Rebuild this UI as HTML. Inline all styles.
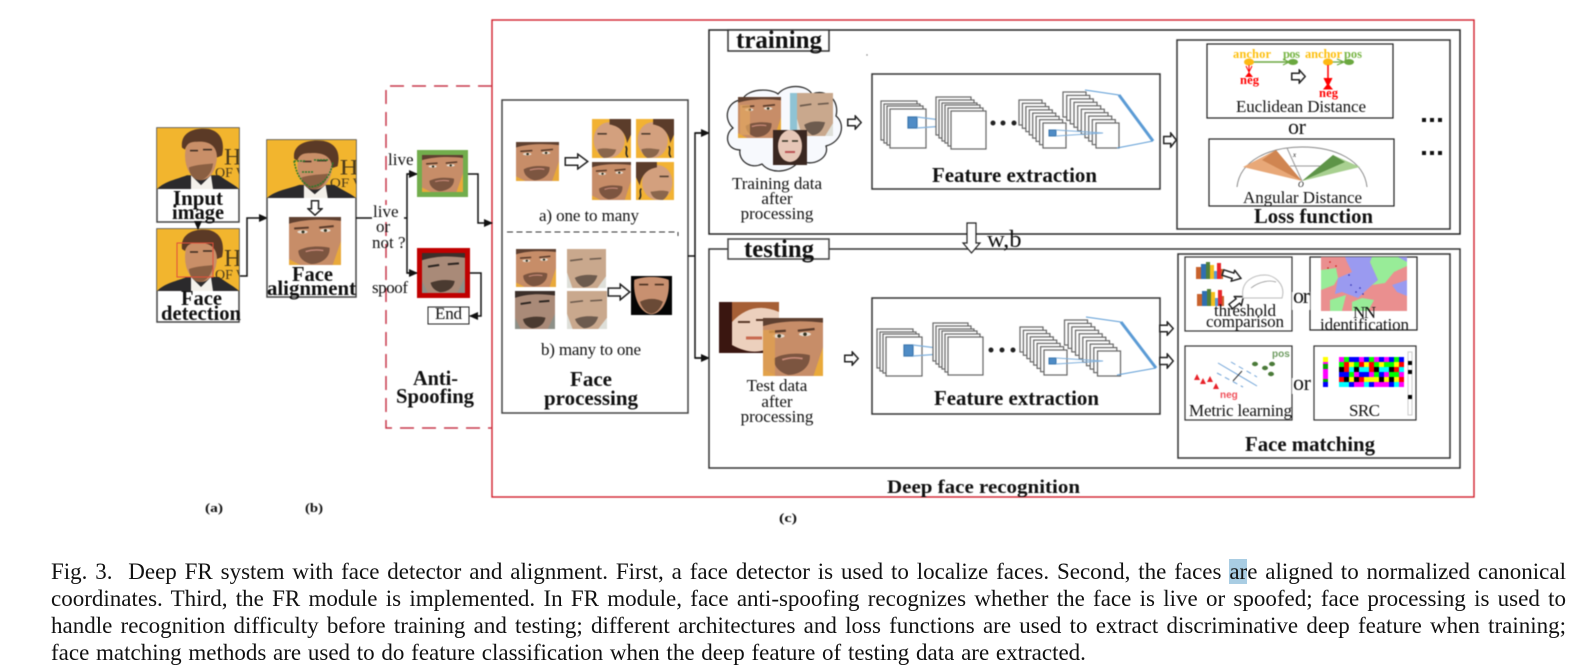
<!DOCTYPE html>
<html><head><meta charset="utf-8"><style>
html,body{margin:0;padding:0;background:#fff;width:1583px;height:670px;overflow:hidden}
svg{position:absolute;left:0;top:0;filter:blur(.4px)}
text{font-family:"Liberation Serif","Noto Serif CJK SC",serif;fill:#111}
.b{font-weight:bold;font-size:21px}.r{font-size:17px}
.c{position:absolute;left:51px;width:1515px;font:23px/26px "Liberation Serif",serif;color:#111;white-space:pre;text-align:justify;text-align-last:justify;filter:blur(.3px)}
.h{background:#a9cde3}
</style></head><body>
<svg width="1583" height="670" viewBox="0 0 1583 670" xmlns="http://www.w3.org/2000/svg">
<defs>
<marker id="m" markerWidth="9" markerHeight="8" refX="8" refY="4" orient="auto" markerUnits="userSpaceOnUse"><path d="M0 0L9 4L0 8Z" fill="#111"/></marker>
<symbol id="p" viewBox="0 0 82 62" preserveAspectRatio="none">
<rect width="82" height="62" fill="#f2b52e"/><text x="67" y="37" font-size="24" style="fill:#4a3a1a">H</text><text x="58" y="50" font-size="14" style="fill:#4a3a1a">OF W</text>
<path d="M0 62C8 54 20 52 30 48L62 48C70 54 78 58 82 62Z" fill="#2b2a2c"/><path d="M34 48L44 58L54 48L56 62H34Z" fill="#f3f0ea"/>
<ellipse cx="44" cy="28" rx="16" ry="25" fill="#c98f68"/><path d="M25 20C23 4 38 -1 52 1C64 4 68 14 65 28L60 30C60 18 52 13 40 14C34 14 30 15 28 22Z" fill="#5b3a26"/>
<path d="M32 40C40 37 50 37 56 36C55 48 46 54 42 53C36 52 32 46 32 40Z" fill="#8a5f42"/><path d="M33 23h8M46 22h9" stroke="#3a2a20" stroke-width="1.6"/>
</symbol>
<symbol id="f" viewBox="0 0 100 100" preserveAspectRatio="none">
<rect width="100" height="100" fill="#e9a93a"/><path d="M0 0H100V50L84 100H22L0 88Z" fill="#c78d68"/><path d="M0 0H100V8C70 4 30 4 0 14Z" fill="#5f4030"/>
<path d="M10 24L38 22M58 22L86 19" stroke="#5a3b2a" stroke-width="4"/><ellipse cx="26" cy="31" rx="10" ry="3.500" fill="#e6dccf"/><ellipse cx="70" cy="28" rx="10" ry="3.500" fill="#e6dccf"/><circle cx="27" cy="31" r="3" fill="#332"/><circle cx="70" cy="28" r="3" fill="#332"/>
<path d="M18 70C34 60 62 60 78 64C80 84 62 98 42 98C28 94 18 84 18 70Z" fill="#7c5540"/><path d="M32 72C44 68 56 68 66 70" stroke="#c98b7a" stroke-width="3" fill="none"/>
</symbol>
<symbol id="s" viewBox="0 0 100 100" preserveAspectRatio="none">
<rect width="100" height="100" fill="#f2b233"/><ellipse cx="44" cy="54" rx="40" ry="46" fill="#d3a07e"/><path d="M45 0H100V40L90 62C86 36 72 18 45 14Z" fill="#5b3c2a"/><path d="M14 78C32 72 52 78 62 78C58 94 46 100 30 100C22 96 16 88 14 78Z" fill="#8a664c"/><path d="M14 38h24" stroke="#4d3a2c" stroke-width="4"/><path d="M86 70C94 76 82 88 92 98" stroke="#222" stroke-width="4" fill="none"/>
</symbol>
<symbol id="g" viewBox="0 0 100 100" preserveAspectRatio="none">
<rect width="100" height="100" fill="#8d9088"/><path d="M0 0H100V60L82 100H14L0 70Z" fill="#a98a78"/><path d="M0 0H100V12C60 6 30 8 0 18Z" fill="#3b2f2a"/><path d="M14 34L40 30M60 28L86 26" stroke="#2b2420" stroke-width="5"/><path d="M20 74C40 66 60 66 76 70C74 88 58 98 42 98C30 94 22 86 20 74Z" fill="#4a3a30"/>
</symbol>
<symbol id="w" viewBox="0 0 100 100" preserveAspectRatio="none">
<rect width="100" height="100" fill="#dedfd9"/><path d="M0 0H100V70L78 100H14L0 60Z" fill="#c9a88d"/><path d="M8 30L40 26M58 26L88 24" stroke="#6c5a4c" stroke-width="4"/><path d="M20 74C40 64 60 66 78 68C72 88 58 98 42 98C30 92 24 84 20 74Z" fill="#6d5b4e"/>
</symbol>
<symbol id="d" viewBox="0 0 100 100" preserveAspectRatio="none">
<rect width="100" height="100" fill="#050505"/><path d="M8 10C30 0 70 0 92 10C96 60 74 98 50 98C26 98 4 60 8 10Z" fill="#c89070"/><path d="M20 22L42 22M58 22L80 22" stroke="#4a3020" stroke-width="4"/><path d="M22 66C40 56 62 56 78 66C70 88 58 96 50 96C40 96 28 86 22 66Z" fill="#6a4a36"/>
</symbol>
<symbol id="ha" viewBox="0 0 20 16" preserveAspectRatio="none"><path d="M1 4.5H11V1L19 8L11 15V11.5H1Z" fill="#fff" stroke="#222" stroke-width="1.5" vector-effect="non-scaling-stroke"/></symbol>
<g id="s1" fill="#fff" stroke="#666" stroke-width="1.2"><rect x="881" y="101" width="36" height="39"/><rect x="884" y="104" width="36" height="39"/><rect x="887" y="106" width="36" height="39"/><rect x="890" y="109" width="36" height="39"/><rect x="908" y="117" width="9" height="11" fill="#4f8cc6" stroke="#3b76ad"/><path d="M917 117L973 124L917 128" fill="none" stroke="#7fb0dd"/></g>
<g id="s2" fill="#fff" stroke="#666" stroke-width="1.2"><rect x="936" y="97" width="35" height="38"/><rect x="939" y="100" width="35" height="38"/><rect x="942" y="103" width="35" height="38"/><rect x="945" y="105" width="35" height="38"/><rect x="948" y="108" width="35" height="38"/><rect x="951" y="111" width="35" height="38"/></g>
<g id="s3" fill="#fff" stroke="#666" stroke-width="1.2"><rect x="1019" y="100" width="23" height="25"/><rect x="1022.4" y="103.3" width="23" height="25"/><rect x="1025.9" y="106.6" width="23" height="25"/><rect x="1029.3" y="109.9" width="23" height="25"/><rect x="1032.7" y="113.1" width="23" height="25"/><rect x="1036.1" y="116.4" width="23" height="25"/><rect x="1039.6" y="119.7" width="23" height="25"/><rect x="1043" y="123" width="23" height="25"/></g>
<g id="s4" fill="#fff" stroke="#666" stroke-width="1.2"><rect x="1063" y="92" width="23" height="25"/><rect x="1066.7" y="95.4" width="23" height="25"/><rect x="1070.3" y="98.9" width="23" height="25"/><rect x="1074" y="102.3" width="23" height="25"/><rect x="1077.7" y="105.8" width="23" height="25"/><rect x="1081.3" y="109.2" width="23" height="25"/><rect x="1085" y="112.7" width="23" height="25"/><rect x="1088.7" y="116.1" width="23" height="25"/><rect x="1092.3" y="119.6" width="23" height="25"/><rect x="1096" y="123" width="23" height="25"/></g>
<g id="s5"><rect x="1049" y="130" width="7" height="6" fill="#4f8cc6" stroke="#3b76ad"/><path d="M1056 130L1103 133L1056 136" fill="none" stroke="#7fb0dd"/></g>
<g id="bars"><rect x="0" y="5" width="5" height="12" fill="#c8622c"/><rect x="5" y="2" width="5" height="15" fill="#2f6fb0"/><rect x="10" y="0" width="4" height="17" fill="#4f7f3c"/><rect x="14" y="3" width="4" height="14" fill="#f5bf1c"/><rect x="18" y="9" width="3" height="8" fill="#5a9bd5"/><rect x="21" y="1" width="4" height="16" fill="#e8262a"/><rect x="25" y="7" width="2" height="10" fill="#c8622c"/></g>
</defs>

<!-- red frame and dashed frame -->
<rect x="492" y="20" width="982" height="477" fill="none" stroke="#d11f2b" stroke-width="1.4"/>
<path d="M492 86H386V428H492" fill="none" stroke="#c8384a" stroke-width="1.5" stroke-dasharray="14 8"/>

<!-- (a) input -->
<rect x="157" y="128" width="82" height="94" fill="#fff" stroke="#444" stroke-width="1.5"/>
<use href="#p" x="157" y="128" width="82" height="61"/>
<text class="b" x="173" y="205" textLength="50" lengthAdjust="spacingAndGlyphs">Input</text>
<text class="b" x="172" y="219" textLength="52" lengthAdjust="spacingAndGlyphs">image</text>
<rect x="157" y="229" width="82" height="93" fill="#fff" stroke="#444" stroke-width="1.5"/>
<use href="#p" x="157" y="229" width="82" height="62"/>
<rect x="177" y="243" width="36" height="34" fill="none" stroke="#e0503a"/>
<text class="b" x="181" y="305" textLength="41" lengthAdjust="spacingAndGlyphs">Face</text>
<text class="b" x="161" y="320" textLength="80" lengthAdjust="spacingAndGlyphs">detection</text>
<path d="M198 222V229" stroke="#111" stroke-width="1.5" marker-end="url(#m)"/>
<path d="M240 276H247V218H267" fill="none" stroke="#111" stroke-width="1.5" marker-end="url(#m)"/>

<!-- (b) alignment -->
<rect x="267" y="140" width="89" height="157" fill="#fff" stroke="#444" stroke-width="1.5"/>
<use href="#p" x="267" y="140" width="89" height="58"/>
<path d="M294 161C296 170 298 180 310 187C322 186 330 178 333 162M294 161h12M314 160h14M302 172h12" fill="none" stroke="#2a7a2a" stroke-width="1.5" stroke-dasharray="2 1"/>
<use href="#ha" x="0" y="0" width="16" height="16" transform="translate(323 200) rotate(90)"/>
<use href="#f" x="289" y="217" width="52" height="48"/>
<text class="b" x="292" y="281" textLength="41" lengthAdjust="spacingAndGlyphs">Face</text>
<text class="b" x="267" y="295" textLength="89" lengthAdjust="spacingAndGlyphs">alignment</text>

<!-- anti-spoofing -->
<path d="M356 218H407" fill="none" stroke="#111" stroke-width="1.5"/>
<rect x="372" y="205" width="32" height="17" fill="#fff"/>
<path d="M416 174H407V273H416" fill="none" stroke="#111" stroke-width="1.5"/>
<path d="M407 174H417" stroke="#111" stroke-width="1.5" marker-end="url(#m)"/>
<path d="M407 273H417" stroke="#111" stroke-width="1.5" marker-end="url(#m)"/>
<rect x="419.500" y="152.500" width="46" height="42" fill="none" stroke="#72ad4c" stroke-width="5"/>
<use href="#f" x="422" y="155" width="41" height="37"/>
<rect x="419.500" y="250.500" width="48" height="45" fill="none" stroke="#c00000" stroke-width="5"/>
<use href="#g" x="422" y="253" width="43" height="40"/>
<rect x="428" y="307" width="41" height="17" fill="#fff" stroke="#222"/>
<text class="r" x="435" y="319" textLength="27">End</text>
<path d="M468 174H478V223H492" fill="none" stroke="#111" stroke-width="1.5" marker-end="url(#m)"/>
<path d="M470 273H481V316H470" fill="none" stroke="#111" stroke-width="1.5" marker-end="url(#m)"/>
<text class="r" x="388" y="165">live</text>
<text class="r" x="373" y="217">live</text>
<text class="r" x="376" y="232">or</text>
<text class="r" x="372" y="248">not ?</text>
<text class="r" x="372" y="293" textLength="36">spoof</text>
<text class="b" x="413" y="385" textLength="45" lengthAdjust="spacingAndGlyphs">Anti-</text>
<text class="b" x="396" y="403" textLength="78" lengthAdjust="spacingAndGlyphs">Spoofing</text>

<!-- face processing -->
<rect x="502" y="100" width="186" height="313" fill="#fff" stroke="#444" stroke-width="1.5"/>
<use href="#f" x="516" y="142" width="43" height="39"/>
<use href="#ha" x="564" y="153" width="25" height="17"/>
<use href="#s" x="592" y="119" width="39" height="39"/>
<use href="#s" x="636" y="119" width="38" height="39"/>
<use href="#f" x="592" y="162" width="39" height="38"/>
<use href="#s" x="636" y="162" width="38" height="38" transform="translate(1310 0) scale(-1 1)"/>
<text class="r" x="539" y="221" textLength="100">a) one to many</text>
<path d="M507 232H675" stroke="#333" stroke-width="1" stroke-dasharray="6 3.500"/><path d="M678 232V236" stroke="#333"/>
<use href="#f" x="516" y="249" width="40" height="38"/>
<use href="#w" x="567" y="249" width="39" height="39"/>
<use href="#g" x="515" y="291" width="40" height="38"/>
<use href="#w" x="567" y="291" width="40" height="38"/>
<use href="#ha" x="607" y="283" width="24" height="18"/>
<use href="#d" x="631" y="276" width="41" height="39"/>
<text class="r" x="541" y="355" textLength="100">b) many to one</text>
<text class="b" x="591" y="386" text-anchor="middle">Face</text>
<text class="b" x="544" y="405" textLength="94" lengthAdjust="spacingAndGlyphs">processing</text>
<path d="M688 256H695" stroke="#111" stroke-width="1.5"/>
<path d="M709 133H695V358H709" fill="none" stroke="#111" stroke-width="1.5"/>
<path d="M695 133H709" stroke="#111" stroke-width="1.5" marker-end="url(#m)"/>
<path d="M695 358H709" stroke="#111" stroke-width="1.5" marker-end="url(#m)"/>

<!-- training -->
<rect x="709" y="30" width="751" height="204" fill="#fff" stroke="#222" stroke-width="1.5"/>
<rect x="728" y="30" width="101" height="21" fill="#fff" stroke="#333" stroke-width="1.5"/>
<text class="b" style="font-size:25px" x="736" y="48" textLength="86" lengthAdjust="spacingAndGlyphs">training</text>
<circle cx="867" cy="55" r=".7" fill="#777"/>
<path d="M733 128C722 118 728 100 742 100C748 88 770 88 778 94C786 84 806 84 812 94C826 88 840 100 836 116C846 124 842 142 826 146C830 158 812 168 800 160C790 174 770 174 762 164C750 170 738 160 740 150C726 150 724 134 733 128Z" fill="#f7f9fd" stroke="#222" stroke-width="1.2"/>
<use href="#f" x="738" y="97" width="43" height="41"/>
<rect x="740" y="105" width="10" height="30" fill="#e2a75f" opacity=".7"/>
<rect x="790" y="93" width="43" height="43" fill="#8fc3d4"/><use href="#w" x="797" y="93" width="36" height="43"/>
<rect x="773" y="130" width="34" height="35" fill="#3a2720"/><ellipse cx="790" cy="146" rx="12" ry="16" fill="#e6c7b7"/><path d="M785 152h10" stroke="#b55" stroke-width="2"/><path d="M782 141h6M792 141h6" stroke="#332" stroke-width="1.5"/>
<text class="r" x="777" y="189" text-anchor="middle" textLength="90">Training data</text>
<text class="r" x="777" y="204" text-anchor="middle">after</text>
<text class="r" x="777" y="219" text-anchor="middle">processing</text>
<use href="#ha" x="847" y="115" width="15" height="15"/>
<rect x="872" y="74" width="288" height="115" fill="#fff" stroke="#333" stroke-width="1.5"/>
<use href="#s1"/><use href="#s2"/>
<circle cx="993" cy="123" r="2.500" fill="#222"/><circle cx="1003" cy="123" r="2.500" fill="#222"/><circle cx="1014" cy="123" r="2.500" fill="#222"/>
<use href="#s3"/><use href="#s4"/><use href="#s5"/>
<path d="M1119 95L1153 141" stroke="#5b9bd5" stroke-width="3"/><path d="M1085 90L1119 95M1117 148L1153 141" stroke="#5b9bd5" fill="none"/>
<text class="b" x="932" y="182" textLength="165" lengthAdjust="spacingAndGlyphs">Feature extraction</text>
<use href="#ha" x="1163" y="132" width="14" height="16"/>

<!-- loss -->
<rect x="1177" y="40" width="273" height="189" fill="#fff" stroke="#333" stroke-width="1.5"/>
<rect x="1207" y="44" width="186" height="74" fill="#fff" stroke="#222" stroke-width="1.2"/>
<g font-weight="bold" font-size="12.500">
<text x="1233" y="58" textLength="38" style="fill:#fdc010">anchor</text><text x="1283" y="58" textLength="17" style="fill:#7ab648">pos</text>
<text x="1305" y="58" textLength="37" style="fill:#fdc010">anchor</text><text x="1344" y="58" textLength="18" style="fill:#7ab648">pos</text>
<text x="1240" y="84" textLength="19" style="fill:#f00">neg</text><text x="1319" y="97" textLength="19" style="fill:#f00">neg</text></g>
<path d="M1249 62H1289" stroke="#6aa83f" stroke-width="1.5"/><path d="M1283 59L1289 62L1283 65M1337 59L1344 62L1337 65M1328 62H1344" fill="none" stroke="#6aa83f" stroke-width="1.2"/>
<ellipse cx="1249" cy="62" rx="5" ry="3.500" fill="#fdb913"/><ellipse cx="1293" cy="62" rx="5" ry="3" fill="#6aa83f"/><ellipse cx="1328" cy="62" rx="5" ry="3.500" fill="#fdb913"/><ellipse cx="1349" cy="62" rx="5" ry="3" fill="#6aa83f"/>
<path d="M1249 72L1245 77H1253Z" fill="#f00"/><path d="M1249 65V73M1246 66L1249 72L1252 66" stroke="#f00" fill="none"/>
<path d="M1328 65V88" stroke="#f00" stroke-width="1.5"/><path d="M1324 78L1328 86L1332 78M1328 84L1324 89H1332Z" fill="#f00" stroke="#f00"/>
<use href="#ha" x="1291" y="69" width="15" height="15"/>
<text class="r" x="1236" y="112" textLength="130">Euclidean Distance</text>
<text x="1288" y="134" font-size="22" textLength="18">or</text>
<rect x="1209" y="139" width="185" height="67" fill="#fff" stroke="#222" stroke-width="1.2"/>
<path d="M1237 187C1240 160 1270 147 1302 147C1335 147 1364 160 1367 187" fill="none" stroke="#888"/>
<path d="M1302 181L1243 167L1276 150Z" fill="#e8a878"/><path d="M1302 181L1262 160L1276 150Z" fill="#b8612a" opacity=".5"/>
<path d="M1302 181L1333 155L1360 167Z" fill="#a8d090"/><path d="M1302 181L1333 155L1345 162Z" fill="#3f7a2a" opacity=".7"/>
<path d="M1287 148L1302 181M1290 166H1320" stroke="#999" fill="none"/>
<text x="1293" y="157" font-size="7" font-style="italic">x</text><text x="1298" y="187" font-size="8" font-style="italic">O</text>
<text class="r" x="1243" y="203" textLength="119">Angular Distance</text>
<text class="b" x="1254" y="223" textLength="119" lengthAdjust="spacingAndGlyphs">Loss function</text>
<path d="M1422 118h4v4h-4zM1430 118h4v4h-4zM1438 118h4v4h-4zM1422 151h4v4h-4zM1430 151h4v4h-4zM1438 151h4v4h-4zM1422 327h4v4h-4zM1430 327h4v4h-4zM1438 327h4v4h-4zM1422 360h4v4h-4zM1430 360h4v4h-4zM1438 360h4v4h-4z" fill="#111"/>

<!-- testing -->
<rect x="709" y="249" width="751" height="219" fill="#fff" stroke="#333" stroke-width="1.5"/>
<rect x="728" y="239" width="101" height="20" fill="#fff" stroke="#444" stroke-width="1.5"/>
<text class="b" style="font-size:25px" x="744" y="257" textLength="70" lengthAdjust="spacingAndGlyphs">testing</text>
<rect x="719" y="302" width="60" height="51" fill="#3a1610"/>
<g><rect x="732" y="302" width="47" height="51" fill="#ecd0bd"/><path d="M732 302H779V312C760 304 745 308 732 322Z" fill="#a65f35"/><path d="M738 322h12M756 320h12" stroke="#5a3a2a" stroke-width="2"/><path d="M746 338h16" stroke="#c96a50" stroke-width="3"/><path d="M732 345C745 352 755 353 765 350V353H732Z" fill="#3a1610"/></g>
<use href="#f" x="763" y="318" width="60" height="58"/>
<rect x="763" y="330" width="12" height="46" fill="#e0a050" opacity=".8"/>
<text class="r" x="777" y="391" text-anchor="middle">Test data</text>
<text class="r" x="777" y="407" text-anchor="middle">after</text>
<text class="r" x="777" y="422" text-anchor="middle">processing</text>
<use href="#ha" x="844" y="351" width="15" height="15"/>
<rect x="872" y="298" width="288" height="116" fill="#fff" stroke="#333" stroke-width="1.5"/>
<use href="#s1" transform="translate(-4 228)"/><use href="#s2" transform="translate(-3 226)"/>
<circle cx="991" cy="350" r="2.500" fill="#222"/><circle cx="1002" cy="350" r="2.500" fill="#222"/><circle cx="1013" cy="350" r="2.500" fill="#222"/>
<use href="#s3" transform="translate(1 227)"/><use href="#s4" transform="translate(1.500 228)"/><use href="#s5" transform="translate(0 228)"/>
<path d="M1121 322L1156 368" stroke="#5b9bd5" stroke-width="3"/><path d="M1086 317L1121 322M1117 375L1156 368" stroke="#5b9bd5" fill="none"/>
<text class="b" x="934" y="405" textLength="165" lengthAdjust="spacingAndGlyphs">Feature extraction</text>
<use href="#ha" x="1159" y="321" width="15" height="15"/><use href="#ha" x="1159" y="353" width="15" height="16"/>

<!-- w,b arrow -->
<path d="M967 223H976V243H980L971.500 253L963 243H967Z" fill="#fff" stroke="#222" stroke-width="1.2"/>
<text x="987" y="247" font-size="24.500">w,b</text>

<!-- matching -->
<rect x="1178" y="254" width="272" height="204" fill="#fff" stroke="#333" stroke-width="1.5"/>
<rect x="1185" y="257" width="107" height="74" fill="#fff" stroke="#333" stroke-width="1.2"/>
<use href="#bars" x="1196" y="262"/><use href="#bars" x="1197" y="289"/>
<use href="#ha" x="0" y="0" width="21" height="13" transform="translate(1224 266) rotate(18)"/>
<use href="#ha" x="0" y="0" width="18" height="13" transform="translate(1226 302) rotate(-38)"/>
<path d="M1243 298C1240 280 1255 275 1265 275C1275 275 1286 285 1282 298Z" fill="#fff" stroke="#bbb"/><path d="M1251 288C1260 281 1270 280 1276 282" fill="none" stroke="#888" stroke-width=".7"/>
<text class="r" x="1214" y="316" textLength="62">threshold</text>
<text class="r" x="1206" y="327" textLength="78">comparison</text>
<rect x="1310" y="257" width="107" height="73" fill="#fff" stroke="#222" stroke-width="1.2"/>
<rect x="1321" y="257" width="86" height="54" fill="#ea8f8f"/>
<path d="M1345 257H1372L1370 262L1378 280L1372 285L1358 298L1342 292L1335 294L1338 278L1352 272L1347 262Z" fill="#9a9af0"/>
<path d="M1372 257H1407V266L1394 272L1385 283L1372 285L1378 280L1370 262ZM1321 270L1336 268L1338 278L1334 285L1321 290ZM1330 300L1346 295L1342 311H1330ZM1352 302L1362 298L1374 300L1368 311H1352Z" fill="#98ec98"/>
<path d="M1392 285L1407 280V296L1397 292ZM1407 257V262L1398 257Z" fill="#9a9af0"/>
<g fill="#2a2ab0"><circle cx="1351" cy="285" r=".8"/><circle cx="1356" cy="292" r=".8"/><circle cx="1360" cy="288" r=".8"/><circle cx="1363" cy="294" r=".8"/><circle cx="1349" cy="275" r=".8"/></g>
<g fill="#c11"><circle cx="1330" cy="262" r=".8"/><circle cx="1336" cy="266" r=".8"/><circle cx="1328" cy="268" r=".8"/></g>
<text class="r" x="1353" y="318" textLength="23">NN</text>
<text class="r" x="1320" y="330" textLength="89">identification</text>
<rect x="1292" y="292" width="18" height="18" fill="#fff"/>
<text x="1293" y="303" font-size="22" textLength="17">or</text>
<rect x="1185" y="346" width="107" height="74" fill="#fff" stroke="#333" stroke-width="1.2"/>
<text x="1272" y="357" font-size="10" font-weight="bold" style="font-family:'Liberation Sans',sans-serif;fill:#6f9c62">pos</text>
<g fill="#4a7a38"><ellipse cx="1255" cy="364" rx="3" ry="2.200"/><ellipse cx="1265" cy="368" rx="3" ry="2.200"/><ellipse cx="1272" cy="364" rx="3" ry="2.200"/><ellipse cx="1271" cy="374" rx="3" ry="2.200"/></g>
<path d="M1197 374L1200 380H1194ZM1203 378L1206 384H1200ZM1210 376L1213 382H1207ZM1216 383L1219 389H1213Z" fill="#e8222a"/>
<text x="1220" y="398" font-size="10" font-weight="bold" style="font-family:'Liberation Sans',sans-serif;fill:#f0505a">neg</text>
<path d="M1218 363L1257 386" stroke="#6fa3d8"/><path d="M1231 362L1257 377M1217 373L1243 387" stroke="#6fa3d8" stroke-dasharray="5 4"/><path d="M1242 371L1233 381" stroke="#333"/>
<text class="r" x="1189" y="416" textLength="103">Metric learning</text>
<rect x="1314" y="346" width="102" height="74" fill="#fff" stroke="#333" stroke-width="1.2"/>
<rect x="1292" y="378" width="18" height="16" fill="#fff"/>
<text x="1293" y="390" font-size="22" textLength="18">or</text>
<g fill="none"><path d="M1325.500 357V387" stroke="#f0f" stroke-width="5"/><path d="M1325.500 357V387" stroke="#ff0" stroke-width="5" stroke-dasharray="5 25"/><path d="M1325.500 364V387" stroke="#0a0" stroke-width="5" stroke-dasharray="5 10"/><path d="M1325.500 382V387" stroke="#00f" stroke-width="5"/></g>
<g stroke-width="5" fill="none">
<path d="M1339 359.500h65" stroke="#00f"/><path d="M1339 359.500h65" stroke="#f0f" stroke-dasharray="5 15 5 10 5 5"/><path d="M1344 359.500h60" stroke="#0f0" stroke-dasharray="5 20"/>
<path d="M1339 364.500h65" stroke="#f00"/><path d="M1339 364.500h65" stroke="#0f0" stroke-dasharray="5 5 10 15"/><path d="M1349 364.500h55" stroke="#ff0" stroke-dasharray="5 10"/>
<path d="M1339 369.500h65" stroke="#0ff"/><path d="M1339 369.500h65" stroke="#000" stroke-dasharray="5 10 5 15"/><path d="M1344 369.500h60" stroke="#f00" stroke-dasharray="5 20"/>
<path d="M1339 374.500h65" stroke="#0f0"/><path d="M1339 374.500h65" stroke="#00f" stroke-dasharray="10 10"/><path d="M1354 374.500h50" stroke="#f0f" stroke-dasharray="5 10"/>
<path d="M1339 379.500h65" stroke="#ff0"/><path d="M1339 379.500h65" stroke="#f00" stroke-dasharray="5 15"/><path d="M1344 379.500h60" stroke="#000" stroke-dasharray="5 5 5 20"/>
<path d="M1339 384.500h65" stroke="#f0f"/><path d="M1339 384.500h65" stroke="#0ff" stroke-dasharray="10 15"/><path d="M1349 384.500h55" stroke="#00f" stroke-dasharray="5 15"/>
</g>
<rect x="1408" y="352" width="4" height="63" fill="#fff" stroke="#ccc"/>
<rect x="1408" y="361" width="4" height="4" fill="#000"/><rect x="1408" y="370" width="4" height="4" fill="#000"/><rect x="1408" y="395" width="4" height="4" fill="#000"/>
<text class="r" x="1349" y="416" textLength="31">SRC</text>
<text class="b" x="1245" y="451" textLength="130" lengthAdjust="spacingAndGlyphs">Face matching</text>
<text class="b" style="font-size:19px" x="887" y="493" textLength="193" lengthAdjust="spacingAndGlyphs">Deep face recognition</text>

<!-- sub labels -->
<g font-size="13" font-weight="bold">
<text x="205" y="512" textLength="18" lengthAdjust="spacingAndGlyphs">(a)</text><text x="305" y="512" textLength="18" lengthAdjust="spacingAndGlyphs">(b)</text><text x="779" y="522" textLength="18" lengthAdjust="spacingAndGlyphs">(c)</text></g>
</svg>
<div class="c" style="top:559px">Fig. 3.  Deep FR system with face detector and alignment. First, a face detector is used to localize faces. Second, the faces <span class="h">ar</span>e aligned to normalized canonical</div>
<div class="c" style="top:586px">coordinates. Third, the FR module is implemented. In FR module, face anti-spoofing recognizes whether the face is live or spoofed; face processing is used to</div>
<div class="c" style="top:613px">handle recognition difficulty before training and testing; different architectures and loss functions are used to extract discriminative deep feature when training;</div>
<div class="c" style="top:640px;text-align:left;text-align-last:left;word-spacing:1px">face matching methods are used to do feature classification when the deep feature of testing data are extracted.</div>
</body></html>
